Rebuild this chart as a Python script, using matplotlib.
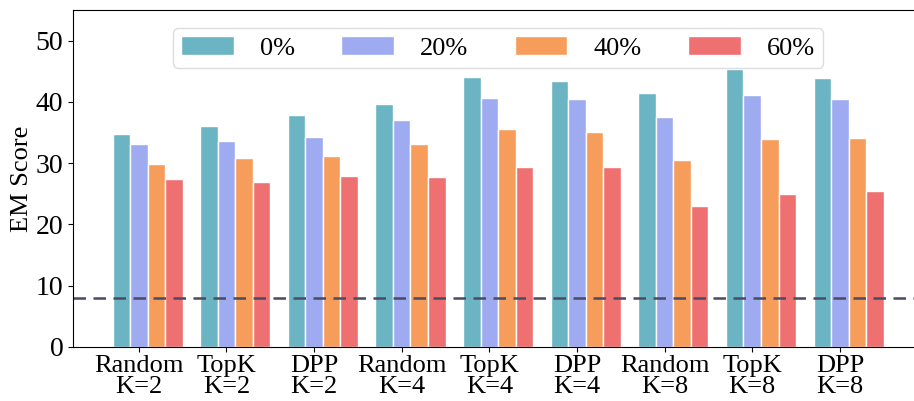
import matplotlib
matplotlib.use("Agg")
import matplotlib.pyplot as plt
import numpy as np

plt.rcParams['font.family'] = ['Liberation Serif', 'DejaVu Serif']

# groups along x
groups = ["Random\nK=2", "TopK\nK=2", "DPP\nK=2",
          "Random\nK=4", "TopK\nK=4", "DPP\nK=4",
          "Random\nK=8", "TopK\nK=8", "DPP\nK=8"]
ratios = ["0%", "20%", "40%", "60%"]

# EM scores per noise ratio
em_0 = [34.7, 36.1, 37.8, 39.7, 44.0, 43.4, 41.4, 45.4, 43.9]
em_20 = [33.2, 33.6, 34.3, 37.1, 40.6, 40.4, 37.6, 41.2, 40.4]
em_40 = [29.9, 30.8, 31.1, 33.1, 35.6, 35.1, 30.5, 33.9, 34.1]
em_60 = [27.4, 27.0, 27.9, 27.7, 29.4, 29.4, 23.0, 24.9, 25.5]
baseline = 8.0

colors = ["#6bb4c3", "#9eabf0", "#f69d5c", "#ee7070"]
FS = 19

fig = plt.figure(figsize=(9.14, 4.01), dpi=100)
ax = fig.add_axes([0.080, 0.135, 0.93, 0.840])

x = np.arange(len(groups))
w = 0.2
for i, (vals, lab) in enumerate(zip([em_0, em_20, em_40, em_60], ratios)):
    ax.bar(x + (i - 1.5) * w, vals, width=w, color=colors[i],
           edgecolor="white", linewidth=1, label=lab)

ax.axhline(baseline, color="#4a4b62", linestyle="--", linewidth=1.8, dashes=(5, 3))

ax.set_xlim(-0.85, 8.85)
ax.set_ylim(0, 55)
ax.set_xticks(x - 0.1)
ax.set_xticklabels(groups, fontsize=FS, linespacing=0.95)
ax.set_yticks([0, 10, 20, 30, 40, 50])
ax.tick_params(axis='y', labelsize=FS + 1)
ax.tick_params(axis='x', pad=2)
ax.set_ylabel("EM Score", fontsize=FS, labelpad=2)
ax.spines['right'].set_visible(False)

ax.legend(loc="upper center", ncol=4, fontsize=FS, handlelength=2.0,
          handletextpad=1.0, columnspacing=1.75, bbox_to_anchor=(0.5, 0.985),
          framealpha=1.0, edgecolor="#dddddd", borderpad=0.3)

fig.savefig("out.png", dpi=100)
